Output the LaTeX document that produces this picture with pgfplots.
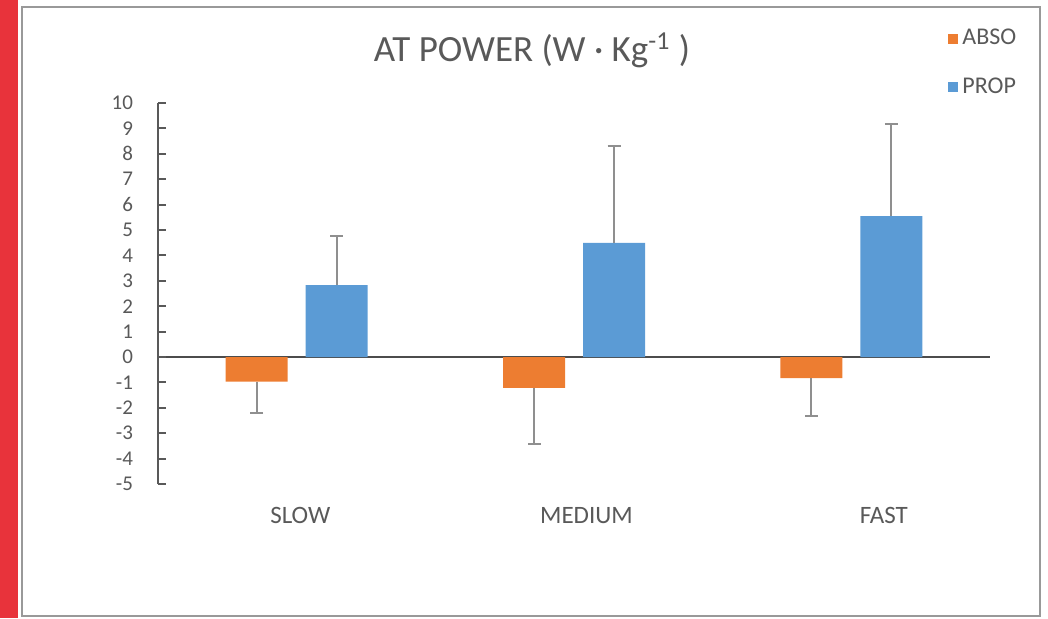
\documentclass[border=0pt]{standalone}
\usepackage{pgfplots}
\usepackage{pgfplotstable}
\pgfplotsset{compat=1.18}
\usepackage{fontspec}
\setmainfont{Carlito}
\definecolor{absoorange}{HTML}{ED7D31}
\definecolor{propblue}{HTML}{5B9BD5}
\definecolor{txtgray}{HTML}{595959}
\definecolor{errgray}{HTML}{8F8F8F}
\definecolor{stripred}{HTML}{E8333B}

% cat: 0 slow, 1 medium, 2 fast
\pgfplotstableread{
cat abso absoerr prop properr
0 -0.97 1.23 2.83 1.93
1 -1.22 2.21 4.49 3.82
2 -0.83 1.49 5.55 3.62
}\powerdata

\begin{document}
\begin{tikzpicture}
\useasboundingbox (0,0) rectangle (524pt,309pt);
\fill[stripred] (0,0) rectangle (9pt,309pt);
\draw[gray!80, line width=1pt] (11pt,1pt) rectangle (520pt,305.5pt);
\begin{axis}[
    at={(79pt,67pt)}, anchor=south west,
    scale only axis, width=416pt, height=190.5pt,
    ybar=9pt, bar width=31pt,
    xmin=-0.5, xmax=2.5, ymin=-5, ymax=10,
    axis x line=bottom, axis y line=left,
    x axis line style={draw=none},
    y axis line style={-, draw=txtgray, line width=1pt},
    xtick={0.013,1.045,2.117},
    xticklabels={SLOW,MEDIUM,FAST},
    xtick style={draw=none},
    xticklabel style={font=\fontsize{12.5}{14}\selectfont, text=txtgray, yshift=-8pt},
    ytick={-5,-4,...,10},
    ytick style={draw=txtgray, line width=1pt},
    tick align=inside, major tick length=3.8pt,
    yticklabel style={font=\fontsize{10.5}{12}\selectfont, text=txtgray, xshift=-9pt},
    /pgf/number format/assume math mode=true,
    extra y ticks={0}, extra y tick labels={},
    extra y tick style={grid=major, major grid style={draw=black!70, line width=1pt}},
    title={AT POWER (W · Kg\textsuperscript{-1} )},
    title style={at={(0.4495,1.107)}, anchor=center, font=\fontsize{18.5}{20}\selectfont, text=txtgray},
    legend style={at={(0.9495,1.205)}, anchor=north west, draw=none, fill=none,
        font=\fontsize{12}{14}\selectfont, text=txtgray, row sep=11pt, inner sep=0pt,
        cells={anchor=west}},
    legend image code/.code={\fill[#1] (0pt,-2.5pt) rectangle (5pt,2.5pt);},
    error bars/error bar style={draw=errgray, line width=1pt},
    error bars/error mark options={draw=errgray, line width=1pt, mark size=3.25pt, rotate=90},
]
\addplot[fill=absoorange, draw=none,
    error bars/.cd, y dir=minus, y explicit]
    table[x=cat, y=abso, y error=absoerr] {\powerdata};
\addlegendentry{ABSO}
\addplot[fill=propblue, draw=none,
    error bars/.cd, y dir=plus, y explicit]
    table[x=cat, y=prop, y error=properr] {\powerdata};
\addlegendentry{PROP}
\end{axis}
\end{tikzpicture}
\end{document}
